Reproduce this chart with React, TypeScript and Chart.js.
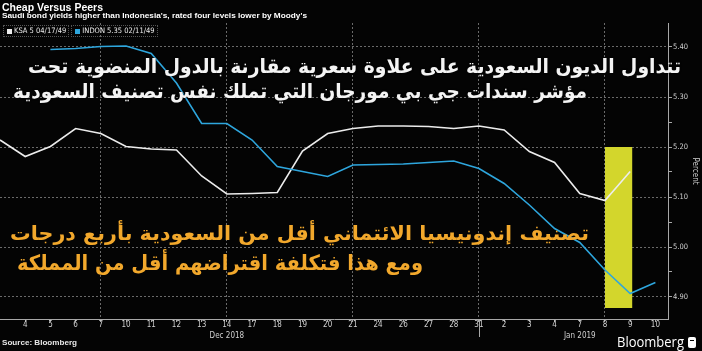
import React, { useEffect, useLayoutEffect, useRef } from 'react';
import { Chart, registerables } from 'chart.js';

Chart.register(...registerables);

// ---- data ----
const dayLabels = ['3', '4', '5', '6', '7', '10', '11', '12', '13', '14', '17', '18', '19', '20', '21', '24', '26', '27', '28', '31', '2', '3', '4', '7', '8', '9', '10'];
const monthLabelIndex = [9, 23];
const monthLabels = ['Dec 2018', 'Jan 2019'];
const ksaYield = [5.214, 5.181, 5.201, 5.237, 5.227, 5.201, 5.196, 5.194, 5.142, 5.106, 5.107, 5.109, 5.192, 5.227, 5.237, 5.242, 5.242, 5.241, 5.237, 5.242, 5.234, 5.191, 5.169, 5.107, 5.093, 5.151, null];
const indonYield = [null, null, 5.395, 5.397, 5.401, 5.402, 5.387, 5.328, 5.247, 5.247, 5.214, 5.161, 5.151, 5.141, 5.164, 5.165, 5.166, 5.169, 5.172, 5.157, 5.127, 5.084, 5.037, 5.009, 4.954, 4.907, 4.929];
const yTicks = [4.9, 4.95, 5.0, 5.05, 5.1, 5.15, 5.2, 5.25, 5.3, 5.35, 5.4];
const yRange = [4.856, 5.448];
const xRange = [0, 26.5];
const yearBreakIndex = 19;
const highlightX = [24, 25.08];
const highlightY = [4.878, 5.2];

const seriesNames = ['KSA 5 04/17/49', 'INDON 5.35 02/11/49'];
const titleText = 'Cheap Versus Peers';
const subtitleText = "Saudi bond yields higher than Indonesia's, rated four levels lower by Moody's";
const sourceText = 'Source: Bloomberg';
const arWhite1 = 'تتداول الديون السعودية على علاوة سعرية مقارنة بالدول المنضوية تحت';
const arWhite2 = 'مؤشر سندات جي بي مورجان التي تملك نفس تصنيف السعودية';
const arOrange1 = 'تصنيف إندونيسيا الائتماني أقل من السعودية بأربع درجات';
const arOrange2 = 'ومع هذا فتكلفة اقتراضهم أقل من المملكة';

const WHITE = '#ececec';
const CYAN = '#2ea6dd';
const GRID = '#6a6a6a';
const AXIS = '#a8a8a8';
const LABEL = '#d0d0d0';
const YELLOW = '#d3d62c';
const ORANGE = '#f2a82c';
const FONT = "'Liberation Sans Narrow', 'DejaVu Sans Condensed', 'Liberation Sans', Arial, sans-serif";

function isMajor(v: number) {
  return Math.abs(v * 10 - Math.round(v * 10)) < 1e-6;
}

function FitText(props: { text: string; left: number; top: number; width: number; size: number; color: string; weight?: number | string; family?: string; rtl?: boolean; shadow?: string }) {
  const ref = useRef<HTMLDivElement>(null);
  useLayoutEffect(() => {
    const el = ref.current;
    if (!el) return;
    el.style.transform = 'none';
    const w = el.getBoundingClientRect().width;
    if (w > 0) el.style.transform = `scaleX(${props.width / w})`;
  }, [props.text, props.width, props.size]);
  return (
    <div
      ref={ref}
      dir={props.rtl ? 'rtl' : 'ltr'}
      style={{
        position: 'absolute',
        left: props.left,
        top: props.top,
        whiteSpace: 'nowrap',
        fontFamily: props.family || FONT,
        fontSize: props.size,
        fontWeight: props.weight ?? 'normal',
        lineHeight: 1,
        color: props.color,
        transformOrigin: 'left top',
        textShadow: props.shadow,
      }}
    >
      {props.text}
    </div>
  );
}

const highlightPlugin = {
  id: 'highlight',
  beforeDatasetsDraw(chart: any) {
    const { ctx, scales } = chart;
    const xs = scales.x;
    const ys = scales.y;
    const x0 = xs.getPixelForValue(highlightX[0]);
    const x1 = xs.getPixelForValue(highlightX[1]);
    const y0 = ys.getPixelForValue(highlightY[1]);
    const y1 = ys.getPixelForValue(highlightY[0]);
    ctx.save();
    ctx.fillStyle = YELLOW;
    ctx.fillRect(x0, y0, x1 - x0, y1 - y0);
    ctx.restore();
  },
};

const yearBreakPlugin = {
  id: 'yearBreak',
  afterDraw(chart: any) {
    const { ctx, scales, chartArea } = chart;
    const x = Math.round(scales.x.getPixelForValue(yearBreakIndex)) + 0.5;
    ctx.save();
    ctx.strokeStyle = AXIS;
    ctx.lineWidth = 1;
    ctx.beginPath();
    ctx.moveTo(x, chartArea.bottom);
    ctx.lineTo(x, chartArea.bottom + 18);
    ctx.stroke();
    ctx.restore();
  },
};

function ChartCanvas() {
  const canvasRef = useRef<HTMLCanvasElement>(null);
  useEffect(() => {
    const canvas = canvasRef.current;
    if (!canvas) return;
    const chart = new Chart(canvas, {
      type: 'line',
      data: {
        datasets: [
          {
            label: seriesNames[1],
            data: indonYield.map((v, i) => ({ x: i, y: v })) as any,
            borderColor: CYAN,
            borderWidth: 1.6,
            pointRadius: 0,
            tension: 0,
            fill: false,
          },
          {
            label: seriesNames[0],
            data: ksaYield.map((v, i) => ({ x: i, y: v })) as any,
            borderColor: WHITE,
            borderWidth: 1.6,
            pointRadius: 0,
            tension: 0,
            fill: false,
          },
        ],
      },
      options: {
        animation: false,
        responsive: true,
        maintainAspectRatio: false,
        layout: { padding: { top: 23, left: 0, right: 0, bottom: 0 } },
        plugins: { legend: { display: false }, tooltip: { enabled: false }, title: { display: false } },
        scales: {
          x: {
            type: 'linear',
            min: xRange[0],
            max: xRange[1],
            bounds: 'data',
            afterBuildTicks: (s: any) => {
              s.ticks = dayLabels.map((_, i) => ({ value: i })).slice(1);
            },
            afterFit: (s: any) => {
              s.height = 32;
            },
            ticks: {
              autoSkip: false,
              maxRotation: 0,
              minRotation: 0,
              color: LABEL,
              padding: -2,
              font: { family: FONT, size: 8, lineHeight: 1.3 },
              callback: (v: any) => {
                const i = Math.round(Number(v));
                const m = monthLabelIndex.indexOf(i);
                return m >= 0 ? [dayLabels[i], monthLabels[m]] : dayLabels[i];
              },
            },
            grid: {
              color: (c: any) => (c.tick && (Math.round(c.tick.value) + 1) % 5 === 0 ? GRID : 'rgba(0,0,0,0)'),
              tickColor: AXIS,
              tickLength: 3,
              lineWidth: 1,
            },
            border: { color: AXIS, width: 1, dash: [2, 2] },
          },
          y: {
            type: 'linear',
            position: 'right',
            min: yRange[0],
            max: yRange[1],
            bounds: 'data',
            afterBuildTicks: (s: any) => {
              s.ticks = yTicks.map((v) => ({ value: v }));
            },
            afterFit: (s: any) => {
              s.width = 34;
            },
            ticks: {
              autoSkip: false,
              color: LABEL,
              padding: 1,
              font: { family: FONT, size: 7.5 },
              callback: (v: any) => (isMajor(Number(v)) ? Number(v).toFixed(2) : ''),
            },
            grid: {
              color: (c: any) => (c.tick && isMajor(c.tick.value) ? GRID : 'rgba(0,0,0,0)'),
              tickColor: AXIS,
              tickLength: 4,
              lineWidth: 1,
            },
            border: { color: AXIS, width: 1, dash: [2, 2] },
            title: {
              display: true,
              text: 'Percent',
              color: LABEL,
              font: { family: FONT, size: 8 },
              padding: { top: 2, bottom: 2 },
            },
          },
        },
      } as any,
      plugins: [highlightPlugin, yearBreakPlugin],
    });
    return () => chart.destroy();
  }, []);
  return <canvas ref={canvasRef} />;
}

function LegendItem(props: { color: string; text: string }) {
  return (
    <div
      style={{
        display: 'flex',
        alignItems: 'center',
        border: '1px dotted #555',
        padding: '0 2px 0 3px',
        height: 10,
        marginRight: 2,
      }}
    >
      <div style={{ width: 5, height: 5, background: props.color, marginRight: 2 }} />
      <span style={{ fontFamily: FONT, fontSize: 7.5, color: '#ececec', lineHeight: 1 }}>{props.text}</span>
    </div>
  );
}

export default function App() {
  return (
    <div style={{ position: 'fixed', left: 0, top: 0, width: 702, height: 351, background: '#040404', overflow: 'hidden' }}>
      <div style={{ position: 'absolute', left: 0, top: 0, width: 702, height: 351 }}>
        <ChartCanvas />
      </div>
      <FitText text={titleText} left={2} top={2} width={101} size={10.5} color="#ffffff" weight="bold" family="'Liberation Sans', Arial, sans-serif" />
      <FitText text={subtitleText} left={2} top={12} width={305} size={7} color="#ffffff" weight="bold" family="'Liberation Sans', Arial, sans-serif" />
      <div style={{ position: 'absolute', left: 3, top: 25, display: 'flex' }}>
        <LegendItem color={WHITE} text={seriesNames[0]} />
        <LegendItem color={CYAN} text={seriesNames[1]} />
      </div>
      <FitText text={sourceText} left={2} top={339} width={75} size={7} color="#e8e8e8" weight="bold" family="'Liberation Sans', Arial, sans-serif" />
      <FitText text="Bloomberg" left={617} top={335} width={67} size={14} color="#ffffff" family="'Open Sans', 'Liberation Sans', Arial, sans-serif" />
      <div style={{ position: 'absolute', left: 688, top: 337, width: 8, height: 11, background: '#ffffff', borderRadius: 2 }}>
        <div style={{ position: 'absolute', left: 2, top: 3, width: 4, height: 1, background: '#040404' }} />
      </div>
      <FitText text={arWhite1} left={28} top={56} width={653} size={20} color="#f4f4f4" weight="bold" family="'DejaVu Sans', sans-serif" rtl shadow="0 0 2px #000" />
      <FitText text={arWhite2} left={13} top={81} width={574} size={20} color="#f4f4f4" weight="bold" family="'DejaVu Sans', sans-serif" rtl shadow="0 0 2px #000" />
      <FitText text={arOrange1} left={10} top={223} width={579} size={20} color={ORANGE} weight="bold" family="'DejaVu Sans', sans-serif" rtl />
      <FitText text={arOrange2} left={17} top={253} width={406} size={21} color={ORANGE} weight="bold" family="'DejaVu Sans', sans-serif" rtl />
    </div>
  );
}
